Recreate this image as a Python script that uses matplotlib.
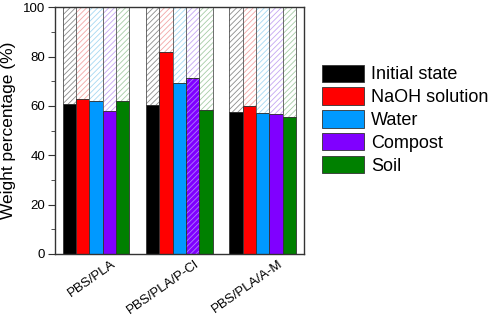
import numpy as np
import matplotlib.pyplot as plt
from matplotlib.ticker import MultipleLocator
from matplotlib.transforms import ScaledTranslation

plt.rcParams['font.family'] = ['Liberation Sans', 'DejaVu Sans']
plt.rcParams['hatch.linewidth'] = 0.6

# data
samples = ['PBS/PLA', 'PBS/PLA/P-Cl', 'PBS/PLA/A-M']
conditions = ['Initial state', 'NaOH solution', 'Water', 'Compost', 'Soil']
initial = [60.9, 60.5, 57.7]
naoh = [62.8, 81.7, 60.0]
water = [62.0, 69.2, 57.2]
compost = [58.0, 71.5, 56.6]
soil = [62.0, 58.4, 55.5]
series = [initial, naoh, water, compost, soil]

colors = ['#000000', '#ff0000', '#0099ff', '#8000ff', '#008000']
light = ['#8c8c8c', '#f2a6a6', '#a6d8f2', '#c4a6f2', '#a6cca6']

fig = plt.figure(figsize=(4.91, 3.19), dpi=100)
ax = fig.add_axes([0.112, 0.204, 0.507, 0.773])

x = np.arange(1, len(samples) + 1)
w = 0.16
for i, vals in enumerate(series):
    pos = x + (i - 2) * w
    vals = np.array(vals)
    # hatched remaining part up to 100 %
    ax.bar(pos, 100 - vals, w, bottom=vals, color='white', edgecolor=light[i],
           hatch='//////', linewidth=0)
    ax.bar(pos, 100 - vals, w, bottom=vals, fill=False, edgecolor='#555555',
           linewidth=0.6)
    ax.bar(pos, vals, w, color=colors[i], edgecolor='#333333', linewidth=0.6,
           label=conditions[i])

# the compost bar of PBS/PLA/P-Cl is hatched on top of its fill
ax.bar(x[1] + w, compost[1], w, color='none', edgecolor='#b07cff',
       hatch='//////', linewidth=0)
ax.bar(x[1] + w, compost[1], w, fill=False, edgecolor='#333333', linewidth=0.6)

ax.set_xlim(0.507, 3.496)
ax.set_ylim(0, 100)
ax.yaxis.set_major_locator(MultipleLocator(20))
ax.yaxis.set_minor_locator(MultipleLocator(10))
ax.tick_params(axis='y', which='both', direction='out', labelsize=9.5,
               color='#333333')
ax.tick_params(axis='y', which='major', length=5, pad=2)
ax.tick_params(axis='y', which='minor', length=3)

# category labels, rotated and shifted a bit right of the group centre
ax.set_xticks(x, [''] * len(samples))
ax.tick_params(axis='x', length=0)
shift = ScaledTranslation(15 / 100, -4 / 100, fig.dpi_scale_trans)
for xi, name in zip(x, samples):
    ax.text(xi, 0, name, transform=ax.get_xaxis_transform() + shift,
            rotation=35, ha='right', va='top', rotation_mode='anchor',
            fontsize=9.5)

ax.set_ylabel('Weight percentage (%)', fontsize=12.5, labelpad=5)
for s in ax.spines.values():
    s.set_linewidth(1.0)
    s.set_color('#333333')

ax.legend(loc='upper left', bbox_to_anchor=(0.642, 0.82),
          bbox_transform=fig.transFigure, frameon=False, fontsize=13,
          handlelength=2.3, handleheight=1.1, labelspacing=0.22,
          handletextpad=0.4, borderaxespad=0)

fig.savefig('out.png', dpi=100)
